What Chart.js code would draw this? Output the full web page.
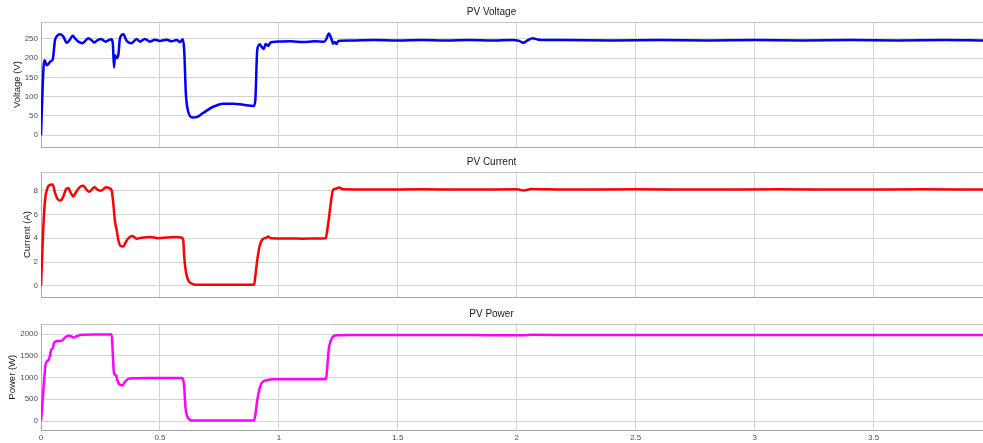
<!DOCTYPE html>
<html>
<head>
<meta charset="utf-8">
<title>PV Voltage / Current / Power</title>
<script src="https://cdn.jsdelivr.net/npm/chart.js@4.4.0/dist/chart.umd.min.js"></script>
<style>
    html, body { margin: 0; padding: 0; background: #fff; }
    #wrap { position: relative; width: 983px; height: 443px; overflow: hidden; }
    canvas { position: absolute; left: 0; }
</style>
</head>
<body>
<div id="wrap">
    <canvas id="voltageChart" width="983" height="155" style="top:0px"></canvas>
    <canvas id="currentChart" width="983" height="155" style="top:150px"></canvas>
    <canvas id="powerChart" width="983" height="144" style="top:302px"></canvas>
</div>
<script>
// shared x axis (time, s)
const xTicks = [0, 0.5, 1, 1.5, 2, 2.5, 3, 3.5];
const xMax = 3.96;

// PV voltage (V)
const voltageTime = [0, 0.006, 0.011, 0.015, 0.024, 0.032, 0.040, 0.049, 0.059, 0.068, 0.080, 0.094, 0.108, 0.120, 0.133, 0.145, 0.157, 0.174, 0.186, 0.199, 0.212, 0.224, 0.238, 0.252, 0.263, 0.273, 0.285, 0.296, 0.302, 0.307, 0.311, 0.318, 0.325, 0.332, 0.346, 0.360, 0.381, 0.402, 0.416, 0.437, 0.458, 0.479, 0.500, 0.528, 0.549, 0.570, 0.584, 0.596, 0.602, 0.609, 0.619, 0.637, 0.654, 0.682, 0.724, 0.766, 0.808, 0.850, 0.895, 0.901, 0.909, 0.920, 0.927, 0.937, 0.944, 0.955, 0.965, 0.990, 1.05, 1.10, 1.15, 1.190, 1.200, 1.210, 1.220, 1.228, 1.235, 1.242, 1.250, 1.30, 1.40, 1.50, 1.60, 1.70, 1.80, 1.90, 1.98, 2.010, 2.027, 2.045, 2.066, 2.09, 2.20, 2.40, 2.60, 2.80, 3.00, 3.20, 3.40, 3.60, 3.80, 3.96];
const voltageValues = [0, 110, 180, 195, 182, 185, 192, 196, 247, 258, 262, 256, 240, 247, 258, 250, 243, 239, 245, 252, 247, 241, 247, 250, 246, 243, 247, 249, 238, 176, 208, 200, 208, 252, 262, 245, 239, 250, 243, 250, 243, 248, 245, 248, 244, 247, 242, 249, 221, 108, 61, 46, 47, 58, 74, 82, 82, 79, 76, 91, 221, 236, 230, 224, 237, 232, 241, 243, 244, 242, 244, 243, 250, 264, 252, 238, 242, 237, 245, 246, 247, 246, 247, 246, 247, 246, 247, 245, 240, 246, 252, 248, 247, 246, 247, 246, 247, 246, 247, 246, 247, 246];
const voltageTicks = [0, 50, 100, 150, 200, 250];

// PV current (A)
const currentTime = [0, 0.005, 0.010, 0.017, 0.027, 0.038, 0.049, 0.059, 0.069, 0.083, 0.094, 0.105, 0.115, 0.125, 0.136, 0.147, 0.164, 0.178, 0.192, 0.203, 0.224, 0.244, 0.255, 0.273, 0.287, 0.297, 0.304, 0.311, 0.318, 0.325, 0.335, 0.346, 0.357, 0.371, 0.385, 0.402, 0.423, 0.458, 0.493, 0.530, 0.570, 0.591, 0.598, 0.602, 0.609, 0.619, 0.633, 0.650, 0.800, 0.896, 0.899, 0.909, 0.920, 0.931, 0.948, 0.955, 0.965, 1.05, 1.10, 1.15, 1.197, 1.203, 1.211, 1.222, 1.228, 1.240, 1.253, 1.27, 1.40, 1.60, 1.80, 2.00, 2.03, 2.06, 2.20, 2.50, 2.80, 3.10, 3.40, 3.70, 3.96];
const currentValues = [0, 2.5, 5.0, 7.2, 8.2, 8.48, 8.5, 7.8, 7.3, 7.15, 7.5, 8.1, 8.2, 7.8, 7.5, 7.85, 8.3, 8.4, 8.05, 7.9, 8.28, 8.0, 8.0, 8.28, 8.2, 8.0, 6.9, 5.4, 4.7, 3.85, 3.35, 3.3, 3.7, 4.07, 4.18, 3.96, 4.04, 4.1, 4.0, 4.05, 4.1, 4.05, 3.85, 2.44, 1.18, 0.48, 0.2, 0.1, 0.1, 0.1, 0.48, 2.16, 3.43, 3.9, 4.05, 4.15, 4.0, 3.98, 3.96, 3.98, 4.0, 4.6, 5.8, 7.5, 8.06, 8.15, 8.25, 8.1, 8.08, 8.1, 8.08, 8.1, 8.0, 8.12, 8.08, 8.1, 8.08, 8.1, 8.08, 8.1, 8.08];
const currentTicks = [0, 2, 4, 6, 8];

// PV power (W)
const powerTime = [0, 0.007, 0.013, 0.020, 0.031, 0.038, 0.042, 0.049, 0.055, 0.063, 0.087, 0.101, 0.115, 0.126, 0.136, 0.150, 0.171, 0.220, 0.297, 0.301, 0.307, 0.315, 0.321, 0.329, 0.343, 0.353, 0.367, 0.388, 0.450, 0.595, 0.602, 0.607, 0.615, 0.633, 0.700, 0.895, 0.901, 0.909, 0.920, 0.931, 0.948, 0.976, 1.05, 1.197, 1.211, 1.225, 1.240, 1.30, 1.50, 1.80, 2.03, 2.06, 2.30, 2.60, 2.90, 3.20, 3.50, 3.80, 3.96];
const powerValues = [0, 477, 938, 1322, 1398, 1513, 1629, 1667, 1797, 1836, 1845, 1921, 1958, 1950, 1921, 1950, 1982, 1990, 1990, 1629, 1092, 1053, 938, 845, 822, 899, 968, 984, 990, 990, 783, 323, 108, 15, 10, 10, 131, 477, 769, 899, 938, 960, 958, 960, 1705, 1920, 1970, 1978, 1980, 1978, 1970, 1982, 1978, 1980, 1978, 1980, 1978, 1980, 1978];
const powerTicks = [0, 500, 1000, 1500, 2000];

const gridColor = '#d4d4d4';
const tickColor = '#4d4d4d';
const fontFamily = '"Liberation Sans", Arial, Helvetica, sans-serif';

// draws the top edge of the plot box
const topBorder = {
    id: 'topBorder',
    afterDraw(chart) {
        const { ctx, chartArea } = chart;
        ctx.save();
        ctx.strokeStyle = '#c4c4c4';
        ctx.lineWidth = 1;
        ctx.beginPath();
        ctx.moveTo(chartArea.left, chartArea.top + 0.5);
        ctx.lineTo(chartArea.right, chartArea.top + 0.5);
        ctx.stroke();
        ctx.restore();
    }
};

function makeChart(id, opts) {
    const points = opts.time.map((t, i) => ({ x: t, y: opts.values[i] }));
    return new Chart(document.getElementById(id), {
        type: 'line',
        data: {
            datasets: [{
                data: points,
                borderColor: opts.color,
                borderWidth: 2.5,
                pointRadius: 0,
                cubicInterpolationMode: 'monotone',
                fill: false
            }]
        },
        options: {
            responsive: false,
            animation: false,
            layout: { padding: 0 },
            plugins: {
                legend: { display: false },
                tooltip: { enabled: false },
                title: {
                    display: true,
                    text: opts.title,
                    color: '#1a1a1a',
                    font: { family: fontFamily, size: 10, weight: 'normal' },
                    padding: { top: 6, bottom: 4 }
                }
            },
            scales: {
                x: {
                    type: 'linear',
                    min: 0,
                    max: xMax,
                    afterBuildTicks: s => { s.ticks = xTicks.map(v => ({ value: v })); },
                    grid: { color: gridColor, drawTicks: false },
                    border: { color: '#a8a8a8' },
                    ticks: {
                        display: opts.showX,
                        color: tickColor,
                        padding: 3,
                        maxRotation: 0,
                        font: { family: fontFamily, size: 8 },
                        callback: v => String(v)
                    }
                },
                y: {
                    min: opts.yMin,
                    max: opts.yMax,
                    afterBuildTicks: s => { s.ticks = opts.ticks.map(v => ({ value: v })); },
                    afterFit: s => { s.width = 41; },
                    grid: { color: gridColor, drawTicks: false },
                    border: { color: '#a8a8a8' },
                    ticks: {
                        color: tickColor,
                        padding: 3,
                        font: { family: fontFamily, size: 8 },
                        callback: v => String(v)
                    },
                    title: {
                        display: true,
                        text: opts.yLabel,
                        color: '#1a1a1a',
                        font: { family: fontFamily, size: 9.5 },
                        padding: { top: opts.labelPad, bottom: 0 }
                    }
                }
            }
        },
        plugins: [topBorder]
    });
}

makeChart('voltageChart', {
    title: 'PV Voltage', yLabel: 'Voltage (V)', color: '#0000ff',
    time: voltageTime, values: voltageValues, ticks: voltageTicks,
    yMin: -31, yMax: 294, labelPad: 12, showX: false
});
makeChart('currentChart', {
    title: 'PV Current', yLabel: 'Current (A)', color: '#ff0000',
    time: currentTime, values: currentValues, ticks: currentTicks,
    yMin: -0.95, yMax: 9.55, labelPad: 22, showX: false
});
makeChart('powerChart', {
    title: 'PV Power', yLabel: 'Power (W)', color: '#ff00ff',
    time: powerTime, values: powerValues, ticks: powerTicks,
    yMin: -215, yMax: 2230, labelPad: 7, showX: true
});
</script>
</body>
</html>
